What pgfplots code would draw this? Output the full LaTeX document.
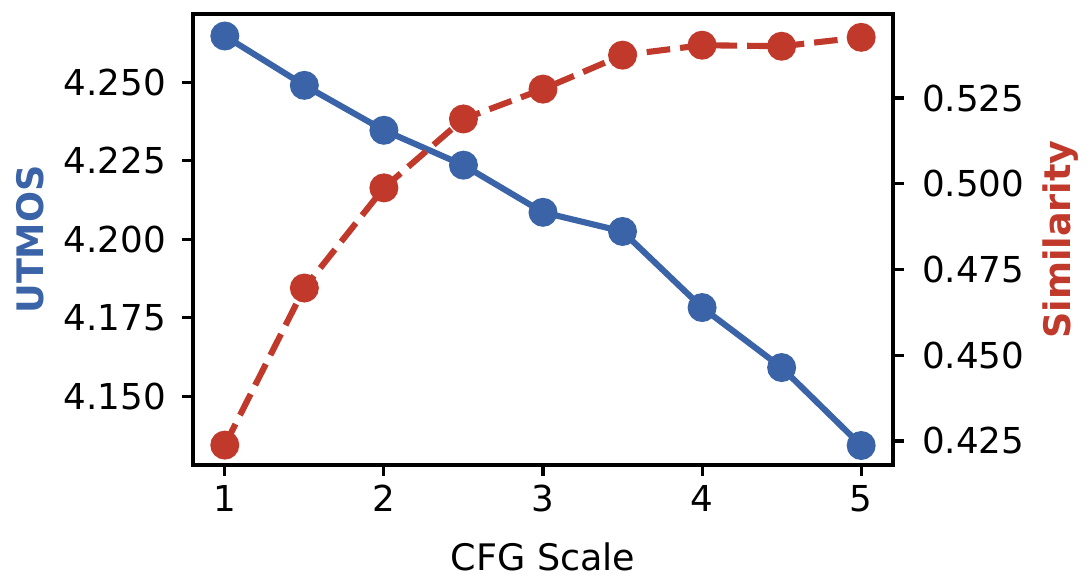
\documentclass[border=0pt]{standalone}
\usepackage{fontspec}
\setmainfont{DejaVu Sans}
\usepackage{pgfplots}
\pgfplotsset{compat=1.18}

\definecolor{cblue}{HTML}{3B64A8}
\definecolor{cred}{HTML}{C0392B}

% reference pixels -> bp: 1 px = 0.36 bp
\pgfplotsset{
    twin/.style={
        scale only axis,
        width=252bp,
        height=162.36bp,
        xmin=0.8, xmax=5.2,
        tick align=outside,
        major tick length=3.8bp,
        tick style={line width=1.1bp, black},
        axis line style={line width=1.1bp},
        every tick label/.append style={font=\fontsize{12.9}{15}\selectfont},
        /pgf/number format/assume math mode=true,
        y tick label style={/pgf/number format/fixed, /pgf/number format/precision=3, /pgf/number format/zerofill},
    },
}

\begin{document}
\begin{tikzpicture}
\begin{axis}[
    twin,
    name=main,
    ymin=4.1282, ymax=4.2717,
    xtick={1,2,3,4,5},
    ytick={4.150,4.175,4.200,4.225,4.250},
    xtick pos=bottom,
    ytick pos=left,
    yticklabel style={xshift=-2.4bp},
    xlabel={CFG Scale},
    ylabel={UTMOS},
    every axis x label/.style={at={(axis description cs:0.5,-0.204)}, anchor=center, font=\fontsize{13.2}{15}\selectfont},
    every axis y label/.style={at={(axis description cs:-0.233,0.5)}, rotate=90, anchor=center, text=cblue, font=\fontsize{13.2}{15}\selectfont\bfseries},
]
\addplot[cblue, line width=2.2bp, mark=*, mark size=4.1bp, mark options={solid, fill=cblue, draw=cblue}] coordinates {
    (1,4.2647) (1.5,4.2490) (2,4.2347) (2.5,4.2236) (3,4.2086)
    (3.5,4.2025) (4,4.1783) (4.5,4.1592) (5,4.1344)
};
\end{axis}
\begin{axis}[
    twin,
    ymin=0.4180, ymax=0.5495,
    axis x line=none,
    axis y line*=right,
    ytick={0.425,0.450,0.475,0.500,0.525},
    yticklabel style={xshift=3.2bp},
    ylabel={Similarity},
    every axis y label/.style={at={(axis description cs:1.239,0.5)}, rotate=90, anchor=center, text=cred, font=\fontsize{13.2}{15}\selectfont\bfseries},
]
\addplot[cred, line width=2.2bp, dash pattern=on 8.5bp off 3.6bp, mark=*, mark size=4.1bp, mark options={solid, fill=cred, draw=cred}] coordinates {
    (1,0.4238) (1.5,0.4696) (2,0.4988) (2.5,0.5189) (3,0.5276)
    (3.5,0.5375) (4,0.5404) (4.5,0.5401) (5,0.5427)
};
\end{axis}
\pgfresetboundingbox
\path ([xshift=-69.48bp, yshift=-44.28bp]main.south west) rectangle ([xshift=70.92bp, yshift=5.04bp]main.north east);
\end{tikzpicture}
\end{document}
